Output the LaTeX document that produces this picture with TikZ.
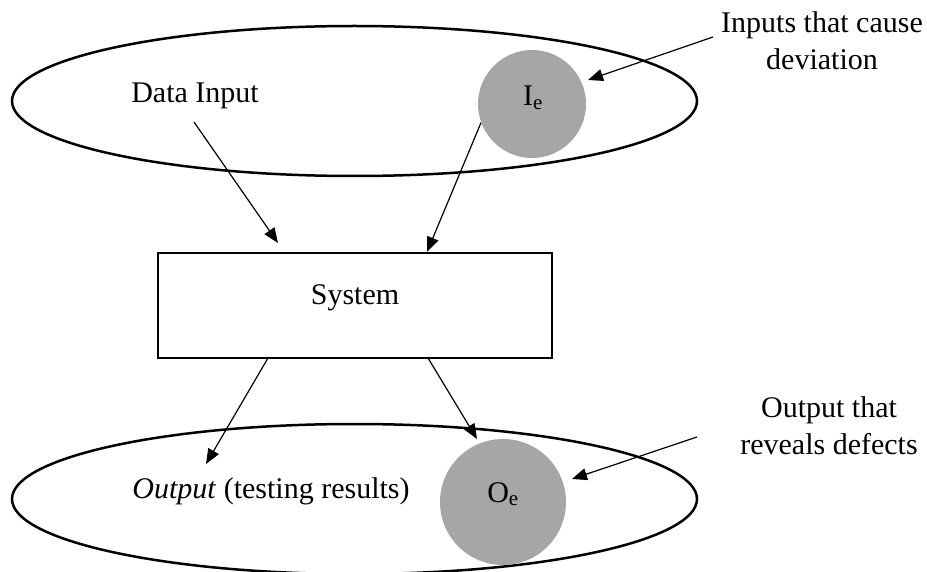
\documentclass[tikz,border=0pt]{standalone}
\usepackage{fontspec}
\setmainfont{Liberation Serif}
\usetikzlibrary{arrows.meta,shapes.geometric}
\definecolor{circgray}{HTML}{A6A6A6}
\begin{document}
\begin{tikzpicture}[x=1pt,y=-1pt,
  bigell/.style={draw,line width=2.5pt,ellipse,minimum width=685pt,minimum height=150pt,inner sep=0pt},
  defect/.style={circle,fill=circgray,inner sep=0pt},
  sysbox/.style={draw,line width=2.6pt,minimum width=394pt,minimum height=105pt,inner sep=0pt},
  txt/.style={font=\fontsize{30}{37}\selectfont,inner sep=0pt,anchor=base},
  conn/.style={line width=1.2pt,-{Triangle[length=15pt,width=12pt]}}]
\useasboundingbox (0,0) rectangle (927,572);
% ellipses
\node[bigell] (topell) at (354.5,101) {};
\node[bigell] (botell) at (354.5,499) {};
% defect circles
\node[defect,minimum size=108pt] (ie) at (532,104) {};
\node[defect,minimum size=126pt] (oe) at (503,502) {};
\node[txt] (iet) at (533,106) {I\textsubscript{e}};
\node[txt] (oet) at (503,502) {O\textsubscript{e}};
% system
\node[sysbox] (sys) at (355,305.5) {};
\node[txt] (syst) at (355,305) {System};
% texts
\node[txt] (din) at (195,103) {Data Input};
\node[txt] (outt) at (271,498) {\textit{Output} (testing results)};
\node[txt] (l1a) at (822,33) {Inputs that cause};
\node[txt] (l1b) at (822,70) {deviation};
\node[txt] (l2a) at (829,417) {Output that};
\node[txt] (l2b) at (829,454) {reveals defects};
% connector end points
\coordinate (dinS) at (194,122);
\coordinate (sysA) at (278,243);
\coordinate (sysB) at (427,252);
\coordinate (l1S) at (713,37);
\coordinate (ieA) at (588,80);
\coordinate (sysC) at (268,358);
\coordinate (outA) at (206,464);
\coordinate (sysD) at (428,358);
\coordinate (oeA) at (477,439);
\coordinate (l2S) at (697,437);
\coordinate (oeB) at (572,479);
% connectors
\draw[conn] (dinS) -- (sysA);
\draw[conn] (ie.200) -- (sysB);
\draw[conn] (l1S) -- (ieA);
\draw[conn] (sysC) -- (outA);
\draw[conn] (sysD) -- (oeA);
\draw[conn] (l2S) -- (oeB);
\end{tikzpicture}
\end{document}
